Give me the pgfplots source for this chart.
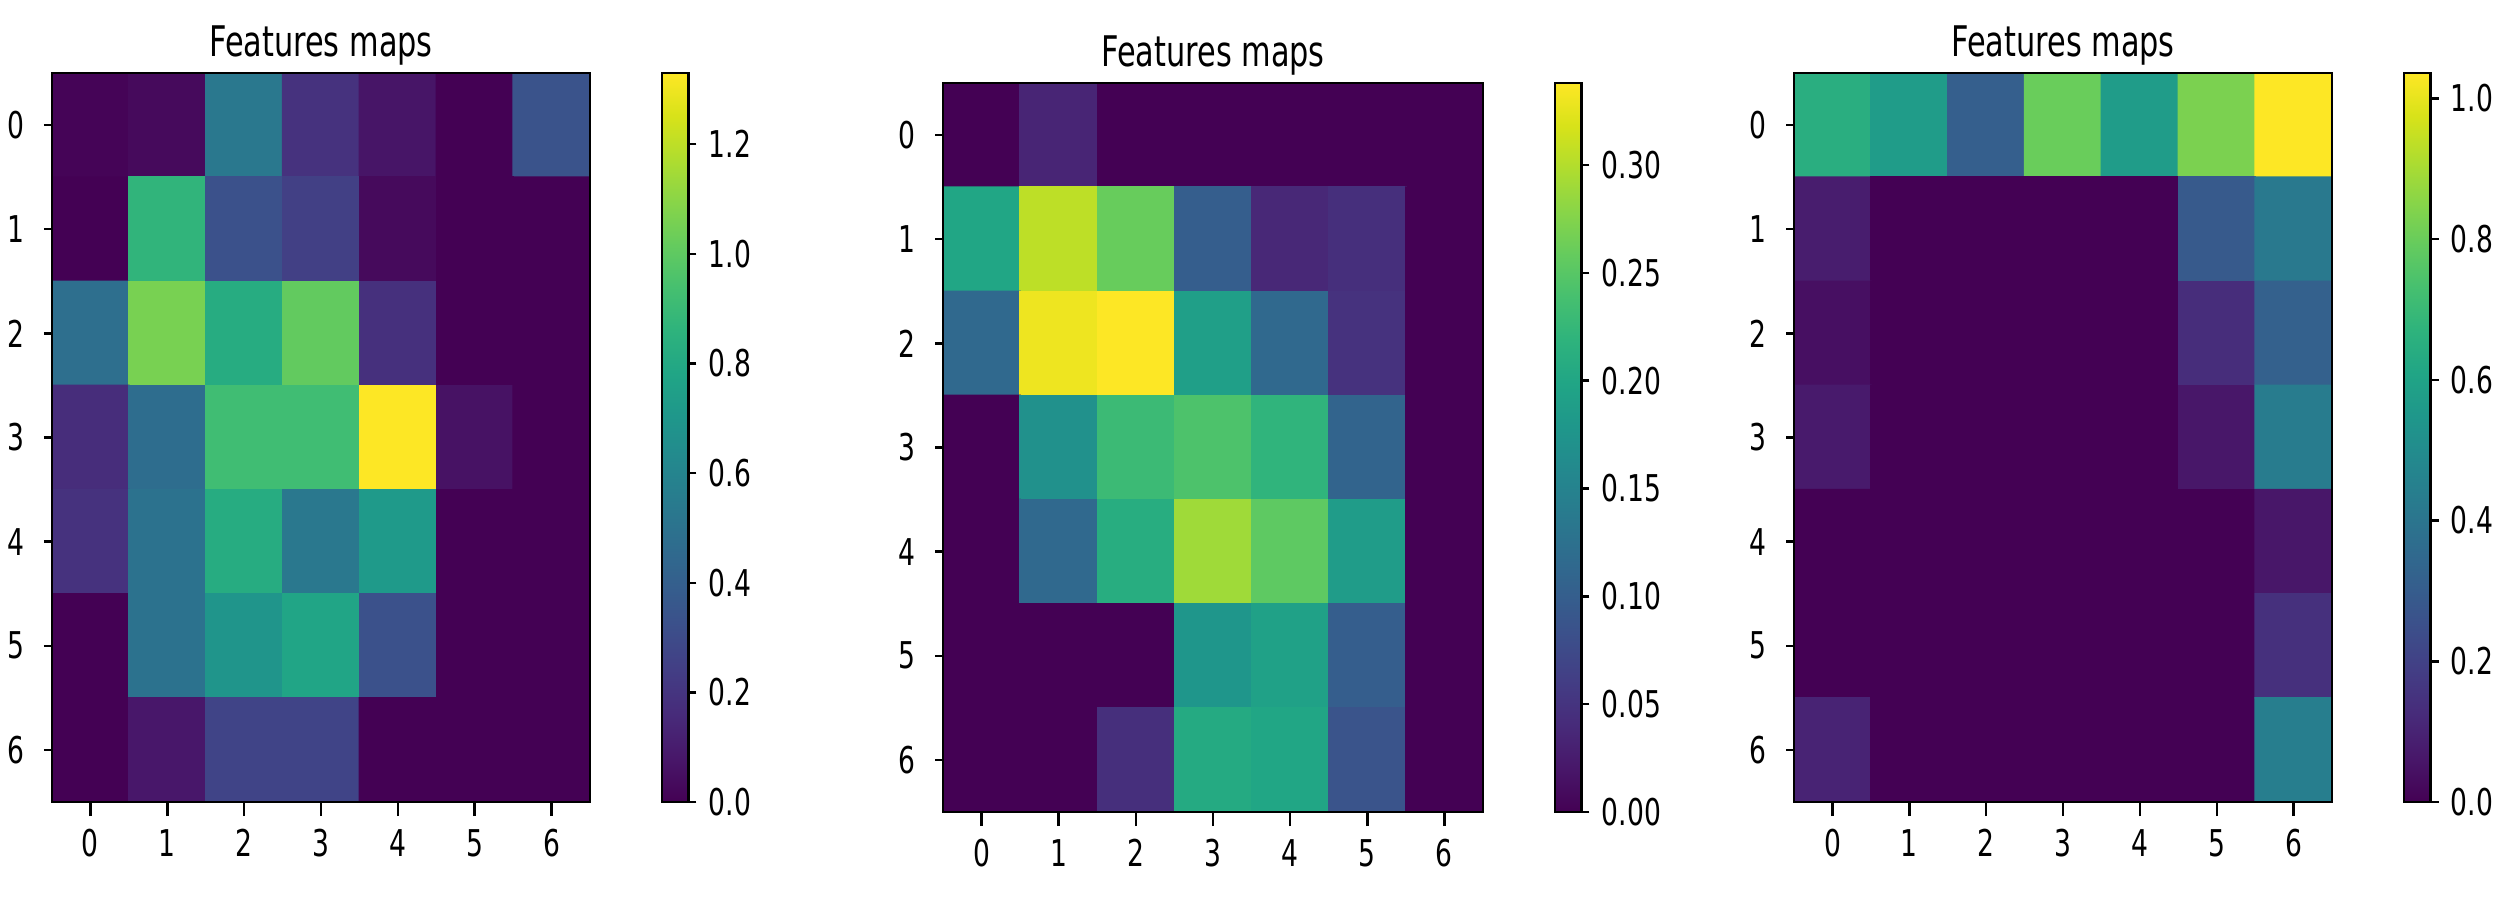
\documentclass[border=0pt]{standalone}
\usepackage{fontspec}
\setmainfont{DejaVu Sans}[FakeStretch=0.72]
\usepackage{pgfplots}
\pgfplotsset{compat=1.18}

\pgfplotsset{
  /pgf/number format/assume math mode=true,
  every axis title shift=0pt,
  fmap/.style={
    scale only axis, width=5.38cm, height=7.29cm,
    anchor=south west,
    enlargelimits=false, axis on top,
    xmin=-0.5, xmax=6.5, ymin=-0.5, ymax=6.5,
    y dir=reverse,
    xtick={0,1,2,3,4,5,6}, ytick={0,1,2,3,4,5,6},
    tick align=outside, tick pos=left,
    axis line style={line width=0.7pt},
    major tick style={line width=0.7pt, black},
    xtick style={/pgfplots/major tick length=0.14cm},
    ytick style={/pgfplots/major tick length=0.08cm},
    tick label style={font=\fontsize{10.5}{12}\selectfont},
    title={Features maps},
    title style={at={(0.5,1)}, anchor=base, yshift=0.17cm,
                 font=\fontsize{12}{14}\selectfont},
    colormap/viridis,
    colorbar,
    colorbar style={
      at={(parent axis.north east)}, anchor=north west, xshift=0.42cm,
      scale only axis, width=0.265cm,
      tick align=outside, ytick pos=right, yticklabel pos=right,
      axis line style={line width=0.7pt},
      major tick style={line width=0.7pt, black, /pgfplots/major tick length=0.08cm},
      tick label style={font=\fontsize{10.5}{12}\selectfont},
    },
  },
  cells/.style={matrix plot*, mesh/cols=7, point meta=explicit},
}

\begin{document}
\begin{tikzpicture}
\useasboundingbox (0,0) rectangle (25,9);

% left map
\begin{axis}[fmap, at={(0.52cm,0.98cm)},
  point meta min=0, point meta max=1.33,
  colorbar style={ytick={0,0.2,0.4,0.6,0.8,1.0,1.2},
    yticklabel style={/pgf/number format/.cd, fixed, fixed zerofill, precision=1}}]
\addplot[cells] table[meta index=2] {
x y c
0 0 0.01
1 0 0.03
2 0 0.53
3 0 0.19
4 0 0.07
5 0 0.00
6 0 0.34
0 1 0.00
1 1 0.87
2 1 0.33
3 1 0.25
4 1 0.03
5 1 0.00
6 1 0.00
0 2 0.48
1 2 1.06
2 2 0.82
3 2 1.01
4 2 0.18
5 2 0.00
6 2 0.00
0 3 0.17
1 3 0.47
2 3 0.92
3 3 0.92
4 3 1.33
5 3 0.06
6 3 0.00
0 4 0.19
1 4 0.50
2 4 0.82
3 4 0.53
4 4 0.72
5 4 0.00
6 4 0.00
0 5 0.00
1 5 0.50
2 5 0.69
3 5 0.78
4 5 0.33
5 5 0.00
6 5 0.00
0 6 0.00
1 6 0.08
2 6 0.27
3 6 0.27
4 6 0.00
5 6 0.00
6 6 0.00
};
\end{axis}

% middle map
\begin{axis}[fmap, at={(9.43cm,0.88cm)}, width=5.40cm,
  point meta min=0, point meta max=0.338,
  colorbar style={ytick={0,0.05,0.10,0.15,0.20,0.25,0.30},
    yticklabel style={/pgf/number format/.cd, fixed, fixed zerofill, precision=2}}]
\addplot[cells] table[meta index=2] {
x y c
0 0 0.000
1 0 0.034
2 0 0.000
3 0 0.000
4 0 0.000
5 0 0.000
6 0 0.000
0 1 0.200
1 1 0.305
2 1 0.260
3 1 0.100
4 1 0.037
5 1 0.045
6 1 0.000
0 2 0.115
1 2 0.330
2 2 0.338
3 2 0.190
4 2 0.115
5 2 0.048
6 2 0.000
0 3 0.000
1 3 0.170
2 3 0.230
3 3 0.243
4 3 0.220
5 3 0.108
6 3 0.000
0 4 0.000
1 4 0.115
2 4 0.210
3 4 0.290
4 4 0.254
5 4 0.186
6 4 0.000
0 5 0.000
1 5 0.000
2 5 0.000
3 5 0.178
4 5 0.193
5 5 0.100
6 5 0.000
0 6 0.000
1 6 0.000
2 6 0.045
3 6 0.206
4 6 0.200
5 6 0.087
6 6 0.000
};
\end{axis}

% right map
\begin{axis}[fmap, at={(17.94cm,0.98cm)},
  point meta min=0, point meta max=1.036,
  colorbar style={ytick={0,0.2,0.4,0.6,0.8,1.0},
    yticklabel style={/pgf/number format/.cd, fixed, fixed zerofill, precision=1}}]
\addplot[cells] table[meta index=2] {
x y c
0 0 0.65
1 0 0.57
2 0 0.31
3 0 0.80
4 0 0.57
5 0 0.83
6 0 1.036
0 1 0.08
1 1 0.00
2 1 0.00
3 1 0.00
4 1 0.00
5 1 0.29
6 1 0.42
0 2 0.04
1 2 0.00
2 2 0.00
3 2 0.00
4 2 0.00
5 2 0.13
6 2 0.32
0 3 0.07
1 3 0.00
2 3 0.00
3 3 0.00
4 3 0.00
5 3 0.06
6 3 0.43
0 4 0.00
1 4 0.00
2 4 0.00
3 4 0.00
4 4 0.00
5 4 0.00
6 4 0.06
0 5 0.00
1 5 0.00
2 5 0.00
3 5 0.00
4 5 0.00
5 5 0.00
6 5 0.14
0 6 0.10
1 6 0.00
2 6 0.00
3 6 0.00
4 6 0.00
5 6 0.00
6 6 0.44
};
\end{axis}
\end{tikzpicture}
\end{document}
